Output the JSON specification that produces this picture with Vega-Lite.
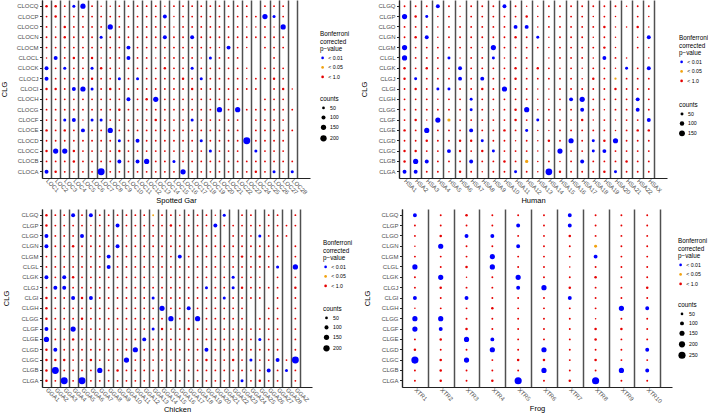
{
"$schema": "https://vega.github.io/schema/vega-lite/v6.json",
"padding": 0,
"spacing": 5,
"config": {
 "font": "Liberation Sans",
 "view": {"stroke": null},
 "axis": {"labelFont": "Liberation Sans", "titleFont": "Liberation Sans", "labelFontSize": 6, "labelColor": "#4d4d4d", "titleFontSize": 7.5, "titleFontWeight": "normal", "titleColor": "#000", "domainColor": "#222", "domainWidth": 1, "tickColor": "#222", "tickSize": 2.5, "labelPadding": 1.5},
 "axisX": {"labelAngle": 45, "labelAlign": "left", "labelBaseline": "middle", "ticks": false, "grid": true, "tickBand": "extent", "gridColor": "#505050", "gridWidth": 1.5, "titlePadding": 1},
 "axisY": {"grid": false, "titlePadding": 8},
 "legend": {"titleFont": "Liberation Sans", "labelFont": "Liberation Sans", "titleFontSize": 6.3, "titleFontWeight": "normal", "titleColor": "#000", "labelFontSize": 5.2, "labelColor": "#000", "titleLineHeight": 7.5, "titlePadding": 3, "rowPadding": 3.5, "symbolStrokeWidth": 0, "labelOffset": 3, "padding": 0}
},
"resolve": {"scale": {"color": "independent", "size": "independent"}, "legend": {"color": "independent", "size": "independent"}},
"vconcat": [
{"spacing": 10,
 "resolve": {"scale": {"color": "independent", "size": "independent"}, "legend": {"color": "independent", "size": "independent"}},
 "hconcat": [
 {"width": 268, "height": 178,
  "data": {"format": {"type": "csv", "parse": {"n": "number"}}, "values": "x,y,n,p\nLOC1,CLOCQ,40,< 1.0\nLOC2,CLOCQ,40,< 1.0\nLOC3,CLOCQ,18,< 1.0\nLOC4,CLOCQ,60,< 0.01\nLOC5,CLOCQ,150,< 0.01\nLOC6,CLOCQ,18,< 1.0\nLOC7,CLOCQ,7,< 1.0\nLOC8,CLOCQ,7,< 1.0\nLOC9,CLOCQ,18,< 1.0\nLOC10,CLOCQ,18,< 1.0\nLOC11,CLOCQ,18,< 1.0\nLOC12,CLOCQ,18,< 1.0\nLOC13,CLOCQ,18,< 1.0\nLOC14,CLOCQ,7,< 1.0\nLOC15,CLOCQ,18,< 1.0\nLOC16,CLOCQ,18,< 1.0\nLOC17,CLOCQ,18,< 1.0\nLOC18,CLOCQ,18,< 1.0\nLOC19,CLOCQ,18,< 1.0\nLOC20,CLOCQ,18,< 1.0\nLOC21,CLOCQ,18,< 1.0\nLOC22,CLOCQ,18,< 1.0\nLOC23,CLOCQ,18,< 1.0\nLOC25,CLOCQ,18,< 1.0\nLOC26,CLOCQ,18,< 1.0\nLOC27,CLOCQ,18,< 1.0\nLOC1,CLOCP,18,< 1.0\nLOC2,CLOCP,40,< 1.0\nLOC3,CLOCP,18,< 1.0\nLOC4,CLOCP,18,< 1.0\nLOC5,CLOCP,18,< 1.0\nLOC6,CLOCP,18,< 1.0\nLOC7,CLOCP,18,< 1.0\nLOC8,CLOCP,18,< 1.0\nLOC9,CLOCP,18,< 1.0\nLOC10,CLOCP,18,< 1.0\nLOC11,CLOCP,18,< 1.0\nLOC12,CLOCP,18,< 1.0\nLOC13,CLOCP,18,< 1.0\nLOC14,CLOCP,96,< 0.01\nLOC15,CLOCP,7,< 1.0\nLOC16,CLOCP,18,< 1.0\nLOC17,CLOCP,18,< 1.0\nLOC18,CLOCP,18,< 1.0\nLOC19,CLOCP,18,< 1.0\nLOC20,CLOCP,18,< 1.0\nLOC21,CLOCP,18,< 1.0\nLOC22,CLOCP,18,< 1.0\nLOC23,CLOCP,18,< 1.0\nLOC24,CLOCP,18,< 1.0\nLOC25,CLOCP,150,< 0.01\nLOC26,CLOCP,60,< 0.01\nLOC27,CLOCP,18,< 1.0\nLOC1,CLOCO,18,< 1.0\nLOC2,CLOCO,7,< 1.0\nLOC3,CLOCO,40,< 1.0\nLOC4,CLOCO,18,< 1.0\nLOC5,CLOCO,18,< 1.0\nLOC6,CLOCO,18,< 1.0\nLOC7,CLOCO,18,< 1.0\nLOC8,CLOCO,150,< 0.01\nLOC9,CLOCO,18,< 1.0\nLOC10,CLOCO,18,< 1.0\nLOC11,CLOCO,18,< 1.0\nLOC12,CLOCO,18,< 1.0\nLOC13,CLOCO,18,< 1.0\nLOC14,CLOCO,18,< 1.0\nLOC15,CLOCO,7,< 1.0\nLOC16,CLOCO,18,< 1.0\nLOC17,CLOCO,18,< 1.0\nLOC18,CLOCO,18,< 1.0\nLOC19,CLOCO,18,< 1.0\nLOC20,CLOCO,18,< 1.0\nLOC21,CLOCO,18,< 1.0\nLOC22,CLOCO,18,< 1.0\nLOC23,CLOCO,7,< 1.0\nLOC24,CLOCO,7,< 1.0\nLOC25,CLOCO,18,< 1.0\nLOC26,CLOCO,7,< 1.0\nLOC27,CLOCO,150,< 0.01\nLOC1,CLOCN,18,< 1.0\nLOC2,CLOCN,18,< 1.0\nLOC3,CLOCN,40,< 1.0\nLOC4,CLOCN,18,< 1.0\nLOC5,CLOCN,18,< 1.0\nLOC6,CLOCN,18,< 1.0\nLOC7,CLOCN,60,< 0.01\nLOC8,CLOCN,18,< 1.0\nLOC9,CLOCN,18,< 1.0\nLOC10,CLOCN,18,< 1.0\nLOC11,CLOCN,18,< 1.0\nLOC12,CLOCN,18,< 1.0\nLOC13,CLOCN,18,< 1.0\nLOC14,CLOCN,96,< 0.01\nLOC15,CLOCN,18,< 1.0\nLOC16,CLOCN,18,< 1.0\nLOC17,CLOCN,96,< 0.01\nLOC18,CLOCN,18,< 1.0\nLOC19,CLOCN,18,< 1.0\nLOC20,CLOCN,18,< 1.0\nLOC21,CLOCN,18,< 1.0\nLOC22,CLOCN,18,< 1.0\nLOC23,CLOCN,18,< 1.0\nLOC24,CLOCN,18,< 1.0\nLOC25,CLOCN,18,< 1.0\nLOC26,CLOCN,18,< 1.0\nLOC27,CLOCN,18,< 1.0\nLOC1,CLOCM,18,< 1.0\nLOC2,CLOCM,18,< 1.0\nLOC3,CLOCM,18,< 1.0\nLOC4,CLOCM,18,< 1.0\nLOC5,CLOCM,18,< 1.0\nLOC6,CLOCM,18,< 1.0\nLOC7,CLOCM,18,< 1.0\nLOC8,CLOCM,18,< 1.0\nLOC9,CLOCM,18,< 1.0\nLOC10,CLOCM,96,< 0.01\nLOC11,CLOCM,18,< 1.0\nLOC12,CLOCM,18,< 1.0\nLOC13,CLOCM,18,< 1.0\nLOC14,CLOCM,18,< 1.0\nLOC15,CLOCM,18,< 1.0\nLOC16,CLOCM,18,< 1.0\nLOC17,CLOCM,18,< 1.0\nLOC18,CLOCM,18,< 1.0\nLOC19,CLOCM,18,< 1.0\nLOC20,CLOCM,7,< 1.0\nLOC21,CLOCM,96,< 0.01\nLOC22,CLOCM,18,< 1.0\nLOC23,CLOCM,7,< 1.0\nLOC25,CLOCM,18,< 1.0\nLOC26,CLOCM,18,< 1.0\nLOC27,CLOCM,18,< 1.0\nLOC1,CLOCL,7,< 1.0\nLOC2,CLOCL,96,< 0.01\nLOC3,CLOCL,18,< 1.0\nLOC4,CLOCL,40,< 1.0\nLOC5,CLOCL,18,< 1.0\nLOC6,CLOCL,40,< 1.0\nLOC7,CLOCL,7,< 1.0\nLOC8,CLOCL,18,< 1.0\nLOC9,CLOCL,18,< 1.0\nLOC10,CLOCL,96,< 0.01\nLOC11,CLOCL,18,< 1.0\nLOC12,CLOCL,18,< 1.0\nLOC13,CLOCL,7,< 1.0\nLOC14,CLOCL,18,< 1.0\nLOC15,CLOCL,18,< 1.0\nLOC16,CLOCL,18,< 1.0\nLOC17,CLOCL,18,< 1.0\nLOC18,CLOCL,7,< 1.0\nLOC19,CLOCL,60,< 0.01\nLOC20,CLOCL,18,< 1.0\nLOC21,CLOCL,18,< 1.0\nLOC22,CLOCL,18,< 1.0\nLOC26,CLOCL,18,< 1.0\nLOC1,CLOCK,96,< 0.01\nLOC2,CLOCK,18,< 1.0\nLOC3,CLOCK,60,< 0.01\nLOC4,CLOCK,18,< 1.0\nLOC5,CLOCK,18,< 1.0\nLOC6,CLOCK,60,< 0.01\nLOC7,CLOCK,40,< 1.0\nLOC8,CLOCK,18,< 1.0\nLOC9,CLOCK,7,< 1.0\nLOC10,CLOCK,18,< 1.0\nLOC11,CLOCK,18,< 1.0\nLOC12,CLOCK,18,< 1.0\nLOC13,CLOCK,18,< 1.0\nLOC14,CLOCK,40,< 1.0\nLOC15,CLOCK,18,< 1.0\nLOC16,CLOCK,18,< 1.0\nLOC17,CLOCK,60,< 0.01\nLOC18,CLOCK,18,< 1.0\nLOC19,CLOCK,18,< 1.0\nLOC20,CLOCK,18,< 1.0\nLOC21,CLOCK,18,< 1.0\nLOC22,CLOCK,18,< 1.0\nLOC23,CLOCK,7,< 1.0\nLOC25,CLOCK,18,< 1.0\nLOC26,CLOCK,18,< 1.0\nLOC27,CLOCK,18,< 1.0\nLOC1,CLOCJ,96,< 0.01\nLOC2,CLOCJ,18,< 1.0\nLOC3,CLOCJ,18,< 1.0\nLOC4,CLOCJ,18,< 1.0\nLOC5,CLOCJ,18,< 1.0\nLOC6,CLOCJ,40,< 1.0\nLOC7,CLOCJ,18,< 1.0\nLOC8,CLOCJ,18,< 1.0\nLOC9,CLOCJ,60,< 0.01\nLOC10,CLOCJ,18,< 1.0\nLOC11,CLOCJ,60,< 0.01\nLOC12,CLOCJ,18,< 1.0\nLOC13,CLOCJ,18,< 1.0\nLOC14,CLOCJ,18,< 1.0\nLOC15,CLOCJ,18,< 1.0\nLOC16,CLOCJ,40,< 1.0\nLOC17,CLOCJ,18,< 1.0\nLOC18,CLOCJ,60,< 0.01\nLOC19,CLOCJ,18,< 1.0\nLOC20,CLOCJ,18,< 1.0\nLOC21,CLOCJ,18,< 1.0\nLOC22,CLOCJ,18,< 1.0\nLOC23,CLOCJ,7,< 1.0\nLOC24,CLOCJ,18,< 1.0\nLOC25,CLOCJ,18,< 1.0\nLOC26,CLOCJ,40,< 1.0\nLOC27,CLOCJ,18,< 1.0\nLOC1,CLOCI,40,< 1.0\nLOC2,CLOCI,40,< 1.0\nLOC3,CLOCI,18,< 1.0\nLOC4,CLOCI,96,< 0.01\nLOC5,CLOCI,150,< 0.01\nLOC6,CLOCI,60,< 0.01\nLOC7,CLOCI,18,< 1.0\nLOC8,CLOCI,40,< 1.0\nLOC9,CLOCI,18,< 1.0\nLOC10,CLOCI,18,< 1.0\nLOC11,CLOCI,18,< 1.0\nLOC12,CLOCI,18,< 1.0\nLOC13,CLOCI,18,< 1.0\nLOC14,CLOCI,18,< 1.0\nLOC15,CLOCI,18,< 1.0\nLOC16,CLOCI,18,< 1.0\nLOC17,CLOCI,40,< 1.0\nLOC18,CLOCI,18,< 1.0\nLOC19,CLOCI,18,< 1.0\nLOC20,CLOCI,18,< 1.0\nLOC21,CLOCI,18,< 1.0\nLOC22,CLOCI,18,< 1.0\nLOC23,CLOCI,18,< 1.0\nLOC24,CLOCI,18,< 1.0\nLOC26,CLOCI,18,< 1.0\nLOC27,CLOCI,40,< 1.0\nLOC28,CLOCI,7,< 1.0\nLOC1,CLOCH,18,< 1.0\nLOC2,CLOCH,18,< 1.0\nLOC3,CLOCH,18,< 1.0\nLOC4,CLOCH,18,< 1.0\nLOC5,CLOCH,18,< 1.0\nLOC6,CLOCH,18,< 1.0\nLOC7,CLOCH,18,< 1.0\nLOC8,CLOCH,18,< 1.0\nLOC9,CLOCH,18,< 1.0\nLOC10,CLOCH,96,< 0.01\nLOC11,CLOCH,18,< 1.0\nLOC12,CLOCH,40,< 1.0\nLOC13,CLOCH,150,< 0.01\nLOC14,CLOCH,18,< 1.0\nLOC15,CLOCH,18,< 1.0\nLOC16,CLOCH,18,< 1.0\nLOC17,CLOCH,18,< 1.0\nLOC18,CLOCH,18,< 1.0\nLOC19,CLOCH,18,< 1.0\nLOC20,CLOCH,18,< 1.0\nLOC21,CLOCH,18,< 1.0\nLOC22,CLOCH,18,< 1.0\nLOC25,CLOCH,18,< 1.0\nLOC26,CLOCH,18,< 1.0\nLOC27,CLOCH,18,< 1.0\nLOC1,CLOCG,18,< 1.0\nLOC2,CLOCG,18,< 1.0\nLOC3,CLOCG,18,< 1.0\nLOC4,CLOCG,18,< 1.0\nLOC5,CLOCG,18,< 1.0\nLOC6,CLOCG,18,< 1.0\nLOC7,CLOCG,18,< 1.0\nLOC8,CLOCG,18,< 1.0\nLOC9,CLOCG,40,< 1.0\nLOC10,CLOCG,18,< 1.0\nLOC11,CLOCG,18,< 1.0\nLOC12,CLOCG,18,< 1.0\nLOC13,CLOCG,18,< 1.0\nLOC14,CLOCG,18,< 1.0\nLOC15,CLOCG,18,< 1.0\nLOC16,CLOCG,18,< 1.0\nLOC17,CLOCG,18,< 1.0\nLOC18,CLOCG,18,< 1.0\nLOC19,CLOCG,18,< 1.0\nLOC20,CLOCG,150,< 0.01\nLOC21,CLOCG,18,< 1.0\nLOC22,CLOCG,150,< 0.01\nLOC23,CLOCG,18,< 1.0\nLOC24,CLOCG,18,< 1.0\nLOC25,CLOCG,18,< 1.0\nLOC26,CLOCG,18,< 1.0\nLOC27,CLOCG,18,< 1.0\nLOC28,CLOCG,18,< 1.0\nLOC1,CLOCF,18,< 1.0\nLOC2,CLOCF,18,< 1.0\nLOC3,CLOCF,60,< 0.01\nLOC4,CLOCF,96,< 0.01\nLOC5,CLOCF,7,< 1.0\nLOC6,CLOCF,60,< 0.01\nLOC7,CLOCF,60,< 0.01\nLOC8,CLOCF,18,< 1.0\nLOC9,CLOCF,18,< 1.0\nLOC10,CLOCF,18,< 1.0\nLOC11,CLOCF,18,< 1.0\nLOC12,CLOCF,18,< 1.0\nLOC13,CLOCF,40,< 1.0\nLOC14,CLOCF,18,< 1.0\nLOC15,CLOCF,18,< 1.0\nLOC16,CLOCF,18,< 1.0\nLOC17,CLOCF,60,< 0.01\nLOC18,CLOCF,18,< 1.0\nLOC19,CLOCF,18,< 1.0\nLOC20,CLOCF,18,< 1.0\nLOC21,CLOCF,18,< 1.0\nLOC22,CLOCF,18,< 1.0\nLOC24,CLOCF,18,< 1.0\nLOC25,CLOCF,18,< 1.0\nLOC26,CLOCF,18,< 1.0\nLOC27,CLOCF,18,< 1.0\nLOC1,CLOCE,40,< 1.0\nLOC2,CLOCE,18,< 1.0\nLOC3,CLOCE,40,< 1.0\nLOC4,CLOCE,18,< 1.0\nLOC5,CLOCE,96,< 0.01\nLOC6,CLOCE,18,< 1.0\nLOC7,CLOCE,18,< 1.0\nLOC8,CLOCE,150,< 0.01\nLOC9,CLOCE,18,< 1.0\nLOC10,CLOCE,18,< 1.0\nLOC11,CLOCE,18,< 1.0\nLOC12,CLOCE,18,< 1.0\nLOC13,CLOCE,18,< 1.0\nLOC14,CLOCE,18,< 1.0\nLOC15,CLOCE,18,< 1.0\nLOC16,CLOCE,18,< 1.0\nLOC17,CLOCE,18,< 1.0\nLOC18,CLOCE,18,< 1.0\nLOC19,CLOCE,18,< 1.0\nLOC20,CLOCE,18,< 1.0\nLOC21,CLOCE,18,< 1.0\nLOC22,CLOCE,18,< 1.0\nLOC24,CLOCE,18,< 1.0\nLOC25,CLOCE,18,< 1.0\nLOC26,CLOCE,18,< 1.0\nLOC27,CLOCE,18,< 1.0\nLOC28,CLOCE,18,< 1.0\nLOC1,CLOCD,18,< 1.0\nLOC2,CLOCD,18,< 1.0\nLOC3,CLOCD,18,< 1.0\nLOC4,CLOCD,18,< 1.0\nLOC5,CLOCD,18,< 1.0\nLOC6,CLOCD,18,< 1.0\nLOC7,CLOCD,18,< 1.0\nLOC8,CLOCD,18,< 1.0\nLOC9,CLOCD,60,< 0.01\nLOC10,CLOCD,18,< 1.0\nLOC11,CLOCD,96,< 0.01\nLOC12,CLOCD,18,< 1.0\nLOC13,CLOCD,18,< 1.0\nLOC14,CLOCD,18,< 1.0\nLOC15,CLOCD,18,< 1.0\nLOC16,CLOCD,18,< 1.0\nLOC17,CLOCD,18,< 1.0\nLOC18,CLOCD,60,< 0.01\nLOC19,CLOCD,18,< 1.0\nLOC20,CLOCD,18,< 1.0\nLOC21,CLOCD,18,< 1.0\nLOC22,CLOCD,18,< 1.0\nLOC23,CLOCD,230,< 0.01\nLOC24,CLOCD,18,< 1.0\nLOC25,CLOCD,18,< 1.0\nLOC26,CLOCD,18,< 1.0\nLOC27,CLOCD,18,< 1.0\nLOC1,CLOCC,40,< 1.0\nLOC2,CLOCC,150,< 0.01\nLOC3,CLOCC,150,< 0.01\nLOC4,CLOCC,40,< 1.0\nLOC5,CLOCC,18,< 1.0\nLOC6,CLOCC,18,< 1.0\nLOC7,CLOCC,18,< 1.0\nLOC8,CLOCC,18,< 1.0\nLOC9,CLOCC,40,< 1.0\nLOC10,CLOCC,18,< 1.0\nLOC11,CLOCC,18,< 1.0\nLOC12,CLOCC,18,< 1.0\nLOC13,CLOCC,18,< 1.0\nLOC14,CLOCC,18,< 1.0\nLOC15,CLOCC,18,< 1.0\nLOC16,CLOCC,18,< 1.0\nLOC17,CLOCC,18,< 1.0\nLOC18,CLOCC,18,< 1.0\nLOC19,CLOCC,60,< 0.01\nLOC20,CLOCC,18,< 1.0\nLOC21,CLOCC,18,< 1.0\nLOC22,CLOCC,18,< 1.0\nLOC24,CLOCC,60,< 0.01\nLOC25,CLOCC,18,< 1.0\nLOC26,CLOCC,18,< 1.0\nLOC27,CLOCC,18,< 1.0\nLOC1,CLOCB,18,< 1.0\nLOC2,CLOCB,18,< 1.0\nLOC3,CLOCB,18,< 1.0\nLOC4,CLOCB,40,< 1.0\nLOC5,CLOCB,18,< 1.0\nLOC6,CLOCB,18,< 1.0\nLOC7,CLOCB,18,< 1.0\nLOC8,CLOCB,18,< 1.0\nLOC9,CLOCB,96,< 0.01\nLOC10,CLOCB,18,< 1.0\nLOC11,CLOCB,96,< 0.01\nLOC12,CLOCB,150,< 0.01\nLOC13,CLOCB,18,< 1.0\nLOC14,CLOCB,18,< 1.0\nLOC15,CLOCB,60,< 0.01\nLOC16,CLOCB,18,< 1.0\nLOC17,CLOCB,18,< 1.0\nLOC18,CLOCB,18,< 1.0\nLOC19,CLOCB,18,< 1.0\nLOC20,CLOCB,18,< 1.0\nLOC21,CLOCB,18,< 1.0\nLOC22,CLOCB,18,< 1.0\nLOC23,CLOCB,18,< 1.0\nLOC24,CLOCB,18,< 1.0\nLOC25,CLOCB,18,< 1.0\nLOC26,CLOCB,18,< 1.0\nLOC27,CLOCB,18,< 1.0\nLOC28,CLOCB,18,< 1.0\nLOC1,CLOCA,96,< 0.01\nLOC2,CLOCA,40,< 1.0\nLOC3,CLOCA,18,< 1.0\nLOC4,CLOCA,18,< 1.0\nLOC5,CLOCA,18,< 1.0\nLOC6,CLOCA,18,< 1.0\nLOC7,CLOCA,230,< 0.01\nLOC8,CLOCA,18,< 1.0\nLOC9,CLOCA,18,< 1.0\nLOC10,CLOCA,18,< 1.0\nLOC11,CLOCA,18,< 1.0\nLOC12,CLOCA,18,< 1.0\nLOC13,CLOCA,18,< 1.0\nLOC14,CLOCA,18,< 1.0\nLOC15,CLOCA,18,< 1.0\nLOC16,CLOCA,150,< 0.01\nLOC17,CLOCA,18,< 1.0\nLOC18,CLOCA,18,< 1.0\nLOC19,CLOCA,18,< 1.0\nLOC20,CLOCA,18,< 1.0\nLOC21,CLOCA,18,< 1.0\nLOC22,CLOCA,18,< 1.0\nLOC23,CLOCA,18,< 1.0\nLOC24,CLOCA,40,< 1.0\nLOC25,CLOCA,18,< 1.0\nLOC26,CLOCA,60,< 0.01\nLOC27,CLOCA,18,< 1.0\nLOC28,CLOCA,60,< 0.01"},
  "mark": {"type": "circle", "opacity": 1},
  "encoding": {
   "x": {"field": "x", "type": "nominal", "title": "Spotted Gar", "scale": {"type": "band", "domain": ["LOC1","LOC2","LOC3","LOC4","LOC5","LOC6","LOC7","LOC8","LOC9","LOC10","LOC11","LOC12","LOC13","LOC14","LOC15","LOC16","LOC17","LOC18","LOC19","LOC20","LOC21","LOC22","LOC23","LOC24","LOC25","LOC26","LOC27","LOC28"], "paddingInner": 0, "paddingOuter": 0.725, "align": 0}},
   "y": {"field": "y", "type": "nominal", "title": "CLG", "sort": "descending", "scale": {"type": "band", "paddingInner": 0, "paddingOuter": 0.1}, "axis": {"titlePadding": 8}},
   "color": {"field": "p", "type": "nominal", "title": ["Bonferroni", "corrected", "p−value"], "scale": {"domain": ["< 0.01", "< 0.05", "< 1.0"], "range": ["#0000ff", "#f2a20f", "#e60000"]}, "legend": {"orient": "none", "legendX": 278, "legendY": 31, "symbolSize": 7}},
   "size": {"field": "n", "type": "quantitative", "title": "counts", "scale": {"type": "pow", "exponent": 1.4, "domain": [0, 200], "range": [2, 40]}, "legend": {"orient": "none", "legendX": 278, "legendY": 96, "values": [50, 100, 150, 200], "symbolFillColor": "#000"}}
  }
 },
 {"width": 268, "height": 178,
  "data": {"format": {"type": "csv", "parse": {"n": "number"}}, "values": "x,y,n,p\nHSA1,CLGQ,16,< 1.0\nHSA2,CLGQ,16,< 1.0\nHSA3,CLGQ,16,< 1.0\nHSA4,CLGQ,80,< 0.01\nHSA5,CLGQ,16,< 1.0\nHSA6,CLGQ,6,< 1.0\nHSA7,CLGQ,16,< 1.0\nHSA8,CLGQ,16,< 1.0\nHSA9,CLGQ,16,< 1.0\nHSA10,CLGQ,80,< 0.01\nHSA11,CLGQ,16,< 1.0\nHSA12,CLGQ,6,< 1.0\nHSA13,CLGQ,6,< 1.0\nHSA14,CLGQ,16,< 1.0\nHSA15,CLGQ,16,< 1.0\nHSA16,CLGQ,16,< 1.0\nHSA17,CLGQ,16,< 1.0\nHSA18,CLGQ,16,< 1.0\nHSA19,CLGQ,16,< 1.0\nHSA20,CLGQ,16,< 1.0\nHSA21,CLGQ,6,< 1.0\nHSA22,CLGQ,16,< 1.0\nHSAX,CLGQ,16,< 1.0\nHSA1,CLGP,125,< 0.01\nHSA2,CLGP,34,< 1.0\nHSA3,CLGP,50,< 0.01\nHSA4,CLGP,6,< 1.0\nHSA5,CLGP,16,< 1.0\nHSA6,CLGP,6,< 1.0\nHSA7,CLGP,16,< 1.0\nHSA8,CLGP,16,< 1.0\nHSA9,CLGP,16,< 1.0\nHSA10,CLGP,16,< 1.0\nHSA11,CLGP,16,< 1.0\nHSA12,CLGP,34,< 1.0\nHSA13,CLGP,6,< 1.0\nHSA14,CLGP,16,< 1.0\nHSA15,CLGP,16,< 1.0\nHSA16,CLGP,16,< 1.0\nHSA17,CLGP,16,< 1.0\nHSA18,CLGP,6,< 1.0\nHSA19,CLGP,16,< 1.0\nHSA20,CLGP,6,< 1.0\nHSA22,CLGP,16,< 1.0\nHSAX,CLGP,6,< 1.0\nHSA1,CLGO,16,< 1.0\nHSA2,CLGO,16,< 1.0\nHSA3,CLGO,16,< 1.0\nHSA4,CLGO,6,< 1.0\nHSA5,CLGO,16,< 1.0\nHSA6,CLGO,16,< 1.0\nHSA7,CLGO,16,< 1.0\nHSA8,CLGO,16,< 1.0\nHSA9,CLGO,16,< 1.0\nHSA10,CLGO,16,< 1.0\nHSA11,CLGO,80,< 0.01\nHSA12,CLGO,80,< 0.01\nHSA13,CLGO,6,< 1.0\nHSA14,CLGO,16,< 1.0\nHSA15,CLGO,16,< 1.0\nHSA16,CLGO,16,< 1.0\nHSA17,CLGO,16,< 1.0\nHSA18,CLGO,16,< 1.0\nHSA19,CLGO,34,< 1.0\nHSA20,CLGO,6,< 1.0\nHSA21,CLGO,6,< 1.0\nHSA22,CLGO,34,< 1.0\nHSAX,CLGO,6,< 1.0\nHSA1,CLGN,16,< 1.0\nHSA2,CLGN,34,< 1.0\nHSA3,CLGN,80,< 0.01\nHSA4,CLGN,6,< 1.0\nHSA5,CLGN,16,< 1.0\nHSA6,CLGN,16,< 1.0\nHSA7,CLGN,16,< 1.0\nHSA8,CLGN,16,< 1.0\nHSA9,CLGN,16,< 1.0\nHSA10,CLGN,16,< 1.0\nHSA11,CLGN,34,< 1.0\nHSA12,CLGN,16,< 1.0\nHSA13,CLGN,50,< 0.01\nHSA14,CLGN,6,< 1.0\nHSA15,CLGN,16,< 1.0\nHSA16,CLGN,16,< 1.0\nHSA17,CLGN,16,< 1.0\nHSA18,CLGN,6,< 1.0\nHSA19,CLGN,16,< 1.0\nHSA20,CLGN,6,< 1.0\nHSA22,CLGN,6,< 1.0\nHSAX,CLGN,80,< 0.01\nHSA1,CLGM,125,< 0.01\nHSA2,CLGM,16,< 1.0\nHSA3,CLGM,16,< 1.0\nHSA4,CLGM,16,< 1.0\nHSA5,CLGM,16,< 1.0\nHSA6,CLGM,16,< 1.0\nHSA7,CLGM,16,< 1.0\nHSA8,CLGM,6,< 1.0\nHSA9,CLGM,125,< 0.01\nHSA10,CLGM,16,< 1.0\nHSA11,CLGM,16,< 1.0\nHSA12,CLGM,16,< 1.0\nHSA13,CLGM,16,< 1.0\nHSA14,CLGM,6,< 1.0\nHSA15,CLGM,16,< 1.0\nHSA16,CLGM,16,< 1.0\nHSA17,CLGM,16,< 1.0\nHSA18,CLGM,16,< 1.0\nHSA19,CLGM,34,< 1.0\nHSA20,CLGM,6,< 1.0\nHSA22,CLGM,16,< 1.0\nHSAX,CLGM,6,< 1.0\nHSA1,CLGL,125,< 0.01\nHSA2,CLGL,16,< 1.0\nHSA3,CLGL,16,< 1.0\nHSA4,CLGL,16,< 1.0\nHSA5,CLGL,50,< 0.01\nHSA6,CLGL,6,< 1.0\nHSA7,CLGL,16,< 1.0\nHSA8,CLGL,16,< 1.0\nHSA9,CLGL,50,< 0.01\nHSA10,CLGL,6,< 1.0\nHSA11,CLGL,16,< 1.0\nHSA12,CLGL,16,< 1.0\nHSA14,CLGL,6,< 1.0\nHSA15,CLGL,16,< 1.0\nHSA16,CLGL,16,< 1.0\nHSA17,CLGL,16,< 1.0\nHSA18,CLGL,6,< 1.0\nHSA19,CLGL,80,< 0.01\nHSA20,CLGL,16,< 1.0\nHSA21,CLGL,6,< 1.0\nHSAX,CLGL,6,< 1.0\nHSA1,CLGK,34,< 1.0\nHSA2,CLGK,16,< 1.0\nHSA3,CLGK,34,< 1.0\nHSA4,CLGK,16,< 1.0\nHSA5,CLGK,16,< 1.0\nHSA6,CLGK,80,< 0.01\nHSA7,CLGK,16,< 1.0\nHSA8,CLGK,16,< 1.0\nHSA9,CLGK,16,< 1.0\nHSA10,CLGK,16,< 1.0\nHSA11,CLGK,34,< 1.0\nHSA12,CLGK,16,< 1.0\nHSA13,CLGK,34,< 1.0\nHSA14,CLGK,16,< 1.0\nHSA15,CLGK,6,< 1.0\nHSA16,CLGK,16,< 1.0\nHSA17,CLGK,6,< 1.0\nHSA18,CLGK,16,< 1.0\nHSA19,CLGK,16,< 1.0\nHSA20,CLGK,6,< 1.0\nHSA21,CLGK,50,< 0.01\nHSA22,CLGK,16,< 1.0\nHSAX,CLGK,80,< 0.01\nHSA1,CLGJ,34,< 1.0\nHSA2,CLGJ,50,< 0.01\nHSA3,CLGJ,16,< 1.0\nHSA4,CLGJ,16,< 1.0\nHSA5,CLGJ,16,< 1.0\nHSA6,CLGJ,80,< 0.01\nHSA7,CLGJ,16,< 1.0\nHSA8,CLGJ,80,< 0.01\nHSA9,CLGJ,16,< 1.0\nHSA10,CLGJ,16,< 1.0\nHSA11,CLGJ,34,< 1.0\nHSA12,CLGJ,16,< 1.0\nHSA13,CLGJ,16,< 1.0\nHSA14,CLGJ,16,< 1.0\nHSA15,CLGJ,16,< 1.0\nHSA16,CLGJ,16,< 1.0\nHSA17,CLGJ,6,< 1.0\nHSA18,CLGJ,34,< 1.0\nHSA19,CLGJ,16,< 1.0\nHSA20,CLGJ,28,< 0.05\nHSA21,CLGJ,16,< 1.0\nHSA22,CLGJ,16,< 1.0\nHSAX,CLGJ,16,< 1.0\nHSA1,CLGI,16,< 1.0\nHSA2,CLGI,34,< 1.0\nHSA3,CLGI,16,< 1.0\nHSA4,CLGI,50,< 0.01\nHSA5,CLGI,50,< 0.01\nHSA6,CLGI,16,< 1.0\nHSA7,CLGI,16,< 1.0\nHSA8,CLGI,34,< 1.0\nHSA9,CLGI,16,< 1.0\nHSA10,CLGI,125,< 0.01\nHSA11,CLGI,16,< 1.0\nHSA12,CLGI,16,< 1.0\nHSA13,CLGI,6,< 1.0\nHSA14,CLGI,6,< 1.0\nHSA15,CLGI,16,< 1.0\nHSA16,CLGI,16,< 1.0\nHSA17,CLGI,16,< 1.0\nHSA18,CLGI,16,< 1.0\nHSA19,CLGI,16,< 1.0\nHSA20,CLGI,34,< 1.0\nHSA21,CLGI,16,< 1.0\nHSA22,CLGI,16,< 1.0\nHSAX,CLGI,16,< 1.0\nHSA1,CLGH,16,< 1.0\nHSA2,CLGH,16,< 1.0\nHSA3,CLGH,16,< 1.0\nHSA4,CLGH,6,< 1.0\nHSA5,CLGH,16,< 1.0\nHSA6,CLGH,16,< 1.0\nHSA7,CLGH,50,< 0.01\nHSA8,CLGH,16,< 1.0\nHSA9,CLGH,16,< 1.0\nHSA10,CLGH,16,< 1.0\nHSA11,CLGH,16,< 1.0\nHSA12,CLGH,16,< 1.0\nHSA13,CLGH,6,< 1.0\nHSA14,CLGH,6,< 1.0\nHSA15,CLGH,16,< 1.0\nHSA16,CLGH,80,< 0.01\nHSA17,CLGH,125,< 0.01\nHSA18,CLGH,16,< 1.0\nHSA19,CLGH,16,< 1.0\nHSA20,CLGH,16,< 1.0\nHSA21,CLGH,16,< 1.0\nHSA22,CLGH,80,< 0.01\nHSAX,CLGH,16,< 1.0\nHSA1,CLGG,16,< 1.0\nHSA2,CLGG,16,< 1.0\nHSA3,CLGG,16,< 1.0\nHSA4,CLGG,16,< 1.0\nHSA5,CLGG,16,< 1.0\nHSA6,CLGG,16,< 1.0\nHSA7,CLGG,50,< 0.01\nHSA8,CLGG,16,< 1.0\nHSA9,CLGG,6,< 1.0\nHSA10,CLGG,16,< 1.0\nHSA11,CLGG,34,< 1.0\nHSA12,CLGG,125,< 0.01\nHSA13,CLGG,6,< 1.0\nHSA14,CLGG,16,< 1.0\nHSA15,CLGG,16,< 1.0\nHSA16,CLGG,16,< 1.0\nHSA17,CLGG,80,< 0.01\nHSA18,CLGG,16,< 1.0\nHSA19,CLGG,6,< 1.0\nHSA20,CLGG,16,< 1.0\nHSA21,CLGG,16,< 1.0\nHSA22,CLGG,80,< 0.01\nHSAX,CLGG,16,< 1.0\nHSA1,CLGF,16,< 1.0\nHSA2,CLGF,34,< 1.0\nHSA3,CLGF,6,< 1.0\nHSA4,CLGF,125,< 0.01\nHSA5,CLGF,55,< 0.05\nHSA6,CLGF,16,< 1.0\nHSA7,CLGF,16,< 1.0\nHSA8,CLGF,16,< 1.0\nHSA9,CLGF,16,< 1.0\nHSA10,CLGF,16,< 1.0\nHSA11,CLGF,34,< 1.0\nHSA12,CLGF,16,< 1.0\nHSA13,CLGF,50,< 0.01\nHSA14,CLGF,16,< 1.0\nHSA15,CLGF,16,< 1.0\nHSA16,CLGF,16,< 1.0\nHSA17,CLGF,34,< 1.0\nHSA18,CLGF,6,< 1.0\nHSA19,CLGF,16,< 1.0\nHSA20,CLGF,6,< 1.0\nHSA21,CLGF,16,< 1.0\nHSA22,CLGF,16,< 1.0\nHSAX,CLGF,80,< 0.01\nHSA1,CLGE,34,< 1.0\nHSA2,CLGE,16,< 1.0\nHSA3,CLGE,125,< 0.01\nHSA4,CLGE,16,< 1.0\nHSA5,CLGE,16,< 1.0\nHSA6,CLGE,16,< 1.0\nHSA7,CLGE,80,< 0.01\nHSA8,CLGE,16,< 1.0\nHSA9,CLGE,16,< 1.0\nHSA10,CLGE,34,< 1.0\nHSA11,CLGE,16,< 1.0\nHSA12,CLGE,50,< 0.01\nHSA13,CLGE,6,< 1.0\nHSA14,CLGE,6,< 1.0\nHSA15,CLGE,16,< 1.0\nHSA16,CLGE,16,< 1.0\nHSA17,CLGE,16,< 1.0\nHSA18,CLGE,16,< 1.0\nHSA19,CLGE,16,< 1.0\nHSA20,CLGE,6,< 1.0\nHSA21,CLGE,16,< 1.0\nHSA22,CLGE,34,< 1.0\nHSAX,CLGE,34,< 1.0\nHSA1,CLGD,16,< 1.0\nHSA2,CLGD,16,< 1.0\nHSA3,CLGD,34,< 1.0\nHSA4,CLGD,16,< 1.0\nHSA5,CLGD,16,< 1.0\nHSA6,CLGD,34,< 1.0\nHSA7,CLGD,34,< 1.0\nHSA8,CLGD,50,< 0.01\nHSA9,CLGD,16,< 1.0\nHSA10,CLGD,16,< 1.0\nHSA11,CLGD,6,< 1.0\nHSA12,CLGD,16,< 1.0\nHSA13,CLGD,6,< 1.0\nHSA14,CLGD,34,< 1.0\nHSA15,CLGD,16,< 1.0\nHSA16,CLGD,125,< 0.01\nHSA17,CLGD,16,< 1.0\nHSA18,CLGD,50,< 0.01\nHSA19,CLGD,34,< 1.0\nHSA20,CLGD,125,< 0.01\nHSA21,CLGD,16,< 1.0\nHSA22,CLGD,16,< 1.0\nHSAX,CLGD,16,< 1.0\nHSA1,CLGC,34,< 1.0\nHSA2,CLGC,34,< 1.0\nHSA3,CLGC,16,< 1.0\nHSA4,CLGC,16,< 1.0\nHSA5,CLGC,80,< 0.01\nHSA6,CLGC,34,< 1.0\nHSA7,CLGC,16,< 1.0\nHSA8,CLGC,34,< 1.0\nHSA9,CLGC,50,< 0.01\nHSA10,CLGC,16,< 1.0\nHSA11,CLGC,16,< 1.0\nHSA12,CLGC,16,< 1.0\nHSA13,CLGC,6,< 1.0\nHSA14,CLGC,6,< 1.0\nHSA15,CLGC,125,< 0.01\nHSA16,CLGC,16,< 1.0\nHSA17,CLGC,16,< 1.0\nHSA18,CLGC,50,< 0.01\nHSA19,CLGC,80,< 0.01\nHSA20,CLGC,16,< 1.0\nHSA21,CLGC,16,< 1.0\nHSA22,CLGC,16,< 1.0\nHSAX,CLGC,16,< 1.0\nHSA1,CLGB,34,< 1.0\nHSA2,CLGB,125,< 0.01\nHSA3,CLGB,80,< 0.01\nHSA4,CLGB,16,< 1.0\nHSA5,CLGB,16,< 1.0\nHSA6,CLGB,16,< 1.0\nHSA7,CLGB,80,< 0.01\nHSA8,CLGB,16,< 1.0\nHSA9,CLGB,16,< 1.0\nHSA10,CLGB,34,< 1.0\nHSA11,CLGB,16,< 1.0\nHSA12,CLGB,60,< 0.05\nHSA13,CLGB,6,< 1.0\nHSA14,CLGB,16,< 1.0\nHSA15,CLGB,6,< 1.0\nHSA16,CLGB,16,< 1.0\nHSA17,CLGB,80,< 0.01\nHSA18,CLGB,16,< 1.0\nHSA19,CLGB,16,< 1.0\nHSA20,CLGB,16,< 1.0\nHSA21,CLGB,34,< 1.0\nHSA22,CLGB,16,< 1.0\nHSAX,CLGB,16,< 1.0\nHSA1,CLGA,80,< 0.01\nHSA2,CLGA,80,< 0.01\nHSA3,CLGA,16,< 1.0\nHSA4,CLGA,16,< 1.0\nHSA5,CLGA,6,< 1.0\nHSA6,CLGA,34,< 1.0\nHSA7,CLGA,16,< 1.0\nHSA8,CLGA,6,< 1.0\nHSA9,CLGA,16,< 1.0\nHSA10,CLGA,16,< 1.0\nHSA11,CLGA,50,< 0.01\nHSA12,CLGA,16,< 1.0\nHSA13,CLGA,6,< 1.0\nHSA14,CLGA,185,< 0.01\nHSA15,CLGA,34,< 1.0\nHSA16,CLGA,16,< 1.0\nHSA17,CLGA,16,< 1.0\nHSA18,CLGA,16,< 1.0\nHSA19,CLGA,34,< 1.0\nHSA20,CLGA,50,< 0.01\nHSA21,CLGA,16,< 1.0\nHSA22,CLGA,16,< 1.0\nHSAX,CLGA,16,< 1.0"},
  "mark": {"type": "circle", "opacity": 1},
  "encoding": {
   "x": {"field": "x", "type": "nominal", "title": "Human", "scale": {"type": "band", "domain": ["HSA1","HSA2","HSA3","HSA4","HSA5","HSA6","HSA7","HSA8","HSA9","HSA10","HSA11","HSA12","HSA13","HSA14","HSA15","HSA16","HSA17","HSA18","HSA19","HSA20","HSA21","HSA22","HSAX"], "paddingInner": 0, "paddingOuter": 0.57, "align": 0}},
   "y": {"field": "y", "type": "nominal", "title": "CLG", "sort": "descending", "scale": {"type": "band", "paddingInner": 0, "paddingOuter": 0.1}, "axis": {"titlePadding": 9}},
   "color": {"field": "p", "type": "nominal", "title": ["Bonferroni", "corrected", "p−value"], "scale": {"domain": ["< 0.01", "< 0.05", "< 1.0"], "range": ["#0000ff", "#f2a20f", "#e60000"]}, "legend": {"orient": "none", "legendX": 280, "legendY": 35, "symbolSize": 7}},
   "size": {"field": "n", "type": "quantitative", "title": "counts", "scale": {"type": "pow", "exponent": 1.4, "domain": [0, 150], "range": [2, 34]}, "legend": {"orient": "none", "legendX": 280, "legendY": 102, "values": [50, 100, 150], "symbolFillColor": "#000"}}
  }
 }
 ]
},
{"spacing": 10,
 "resolve": {"scale": {"color": "independent", "size": "independent"}, "legend": {"color": "independent", "size": "independent"}},
 "hconcat": [
 {"width": 270, "height": 178,
  "data": {"format": {"type": "csv", "parse": {"n": "number"}}, "values": "x,y,n,p\nGGA1,CLGQ,40,< 1.0\nGGA2,CLGQ,18,< 1.0\nGGA3,CLGQ,18,< 1.0\nGGA4,CLGQ,96,< 0.01\nGGA5,CLGQ,18,< 1.0\nGGA6,CLGQ,96,< 0.01\nGGA7,CLGQ,18,< 1.0\nGGA8,CLGQ,18,< 1.0\nGGA9,CLGQ,18,< 1.0\nGGA10,CLGQ,18,< 1.0\nGGA11,CLGQ,18,< 1.0\nGGA12,CLGQ,18,< 1.0\nGGA13,CLGQ,20,< 0.05\nGGA14,CLGQ,18,< 1.0\nGGA15,CLGQ,18,< 1.0\nGGA16,CLGQ,7,< 1.0\nGGA17,CLGQ,18,< 1.0\nGGA18,CLGQ,18,< 1.0\nGGA19,CLGQ,18,< 1.0\nGGA20,CLGQ,7,< 1.0\nGGA21,CLGQ,60,< 0.01\nGGA23,CLGQ,18,< 1.0\nGGA24,CLGQ,18,< 1.0\nGGA26,CLGQ,18,< 1.0\nGGA27,CLGQ,18,< 1.0\nGGAZ,CLGQ,18,< 1.0\nGGA1,CLGP,40,< 1.0\nGGA2,CLGP,18,< 1.0\nGGA3,CLGP,18,< 1.0\nGGA4,CLGP,18,< 1.0\nGGA5,CLGP,18,< 1.0\nGGA6,CLGP,7,< 1.0\nGGA7,CLGP,18,< 1.0\nGGA8,CLGP,18,< 1.0\nGGA9,CLGP,96,< 0.01\nGGA10,CLGP,18,< 1.0\nGGA11,CLGP,18,< 1.0\nGGA12,CLGP,18,< 1.0\nGGA13,CLGP,18,< 1.0\nGGA14,CLGP,18,< 1.0\nGGA15,CLGP,40,< 1.0\nGGA16,CLGP,18,< 1.0\nGGA17,CLGP,18,< 1.0\nGGA18,CLGP,18,< 1.0\nGGA19,CLGP,18,< 1.0\nGGA20,CLGP,96,< 0.01\nGGA21,CLGP,18,< 1.0\nGGA22,CLGP,18,< 1.0\nGGA23,CLGP,18,< 1.0\nGGA24,CLGP,18,< 1.0\nGGA25,CLGP,18,< 1.0\nGGA26,CLGP,18,< 1.0\nGGA27,CLGP,18,< 1.0\nGGA28,CLGP,18,< 1.0\nGGAZ,CLGP,18,< 1.0\nGGA1,CLGO,96,< 0.01\nGGA2,CLGO,18,< 1.0\nGGA3,CLGO,18,< 1.0\nGGA4,CLGO,18,< 1.0\nGGA5,CLGO,96,< 0.01\nGGA6,CLGO,18,< 1.0\nGGA7,CLGO,18,< 1.0\nGGA8,CLGO,18,< 1.0\nGGA9,CLGO,18,< 1.0\nGGA10,CLGO,7,< 1.0\nGGA11,CLGO,18,< 1.0\nGGA12,CLGO,18,< 1.0\nGGA13,CLGO,18,< 1.0\nGGA14,CLGO,18,< 1.0\nGGA15,CLGO,18,< 1.0\nGGA16,CLGO,18,< 1.0\nGGA17,CLGO,18,< 1.0\nGGA18,CLGO,18,< 1.0\nGGA19,CLGO,18,< 1.0\nGGA20,CLGO,18,< 1.0\nGGA22,CLGO,18,< 1.0\nGGA23,CLGO,18,< 1.0\nGGA24,CLGO,18,< 1.0\nGGA25,CLGO,60,< 0.01\nGGA26,CLGO,18,< 1.0\nGGA27,CLGO,18,< 1.0\nGGA28,CLGO,18,< 1.0\nGGA1,CLGN,96,< 0.01\nGGA2,CLGN,18,< 1.0\nGGA3,CLGN,18,< 1.0\nGGA4,CLGN,40,< 1.0\nGGA5,CLGN,18,< 1.0\nGGA6,CLGN,18,< 1.0\nGGA7,CLGN,18,< 1.0\nGGA8,CLGN,18,< 1.0\nGGA9,CLGN,96,< 0.01\nGGA10,CLGN,18,< 1.0\nGGA11,CLGN,18,< 1.0\nGGA12,CLGN,18,< 1.0\nGGA13,CLGN,18,< 1.0\nGGA14,CLGN,18,< 1.0\nGGA15,CLGN,18,< 1.0\nGGA16,CLGN,18,< 1.0\nGGA17,CLGN,18,< 1.0\nGGA18,CLGN,18,< 1.0\nGGA19,CLGN,18,< 1.0\nGGA20,CLGN,18,< 1.0\nGGA21,CLGN,18,< 1.0\nGGA22,CLGN,18,< 1.0\nGGA23,CLGN,18,< 1.0\nGGA24,CLGN,18,< 1.0\nGGA25,CLGN,18,< 1.0\nGGA26,CLGN,18,< 1.0\nGGA27,CLGN,18,< 1.0\nGGAZ,CLGN,18,< 1.0\nGGA1,CLGM,18,< 1.0\nGGA2,CLGM,18,< 1.0\nGGA3,CLGM,18,< 1.0\nGGA4,CLGM,18,< 1.0\nGGA5,CLGM,18,< 1.0\nGGA6,CLGM,18,< 1.0\nGGA7,CLGM,18,< 1.0\nGGA8,CLGM,96,< 0.01\nGGA9,CLGM,18,< 1.0\nGGA10,CLGM,18,< 1.0\nGGA11,CLGM,18,< 1.0\nGGA12,CLGM,18,< 1.0\nGGA13,CLGM,18,< 1.0\nGGA14,CLGM,18,< 1.0\nGGA15,CLGM,18,< 1.0\nGGA16,CLGM,96,< 0.01\nGGA17,CLGM,18,< 1.0\nGGA18,CLGM,18,< 1.0\nGGA19,CLGM,18,< 1.0\nGGA20,CLGM,18,< 1.0\nGGA21,CLGM,18,< 1.0\nGGA22,CLGM,18,< 1.0\nGGA23,CLGM,40,< 1.0\nGGA24,CLGM,18,< 1.0\nGGA25,CLGM,40,< 1.0\nGGA26,CLGM,18,< 1.0\nGGA27,CLGM,18,< 1.0\nGGAZ,CLGM,18,< 1.0\nGGA1,CLGL,18,< 1.0\nGGA2,CLGL,18,< 1.0\nGGA3,CLGL,18,< 1.0\nGGA4,CLGL,18,< 1.0\nGGA5,CLGL,18,< 1.0\nGGA6,CLGL,18,< 1.0\nGGA7,CLGL,18,< 1.0\nGGA8,CLGL,96,< 0.01\nGGA9,CLGL,18,< 1.0\nGGA10,CLGL,18,< 1.0\nGGA11,CLGL,18,< 1.0\nGGA12,CLGL,18,< 1.0\nGGA13,CLGL,18,< 1.0\nGGA14,CLGL,18,< 1.0\nGGA15,CLGL,18,< 1.0\nGGA16,CLGL,18,< 1.0\nGGA17,CLGL,18,< 1.0\nGGA18,CLGL,18,< 1.0\nGGA19,CLGL,18,< 1.0\nGGA20,CLGL,18,< 1.0\nGGA21,CLGL,7,< 1.0\nGGA22,CLGL,18,< 1.0\nGGA23,CLGL,18,< 1.0\nGGA24,CLGL,18,< 1.0\nGGA25,CLGL,18,< 1.0\nGGA26,CLGL,18,< 1.0\nGGA27,CLGL,60,< 0.01\nGGAZ,CLGL,150,< 0.01\nGGA1,CLGK,96,< 0.01\nGGA2,CLGK,18,< 1.0\nGGA3,CLGK,96,< 0.01\nGGA4,CLGK,40,< 1.0\nGGA5,CLGK,18,< 1.0\nGGA6,CLGK,18,< 1.0\nGGA7,CLGK,18,< 1.0\nGGA8,CLGK,18,< 1.0\nGGA9,CLGK,18,< 1.0\nGGA10,CLGK,18,< 1.0\nGGA11,CLGK,18,< 1.0\nGGA12,CLGK,18,< 1.0\nGGA13,CLGK,7,< 1.0\nGGA14,CLGK,18,< 1.0\nGGA15,CLGK,18,< 1.0\nGGA16,CLGK,18,< 1.0\nGGA17,CLGK,18,< 1.0\nGGA18,CLGK,18,< 1.0\nGGA19,CLGK,18,< 1.0\nGGA20,CLGK,18,< 1.0\nGGA21,CLGK,18,< 1.0\nGGA22,CLGK,60,< 0.01\nGGA23,CLGK,18,< 1.0\nGGA24,CLGK,18,< 1.0\nGGA25,CLGK,7,< 1.0\nGGA27,CLGK,18,< 1.0\nGGAZ,CLGK,18,< 1.0\nGGA1,CLGJ,18,< 1.0\nGGA2,CLGJ,96,< 0.01\nGGA3,CLGJ,96,< 0.01\nGGA4,CLGJ,18,< 1.0\nGGA5,CLGJ,18,< 1.0\nGGA6,CLGJ,18,< 1.0\nGGA7,CLGJ,18,< 1.0\nGGA8,CLGJ,18,< 1.0\nGGA9,CLGJ,18,< 1.0\nGGA10,CLGJ,18,< 1.0\nGGA11,CLGJ,18,< 1.0\nGGA12,CLGJ,18,< 1.0\nGGA13,CLGJ,18,< 1.0\nGGA14,CLGJ,18,< 1.0\nGGA15,CLGJ,18,< 1.0\nGGA16,CLGJ,18,< 1.0\nGGA17,CLGJ,18,< 1.0\nGGA18,CLGJ,18,< 1.0\nGGA19,CLGJ,60,< 0.01\nGGA20,CLGJ,18,< 1.0\nGGA21,CLGJ,18,< 1.0\nGGA22,CLGJ,60,< 0.01\nGGA23,CLGJ,40,< 1.0\nGGA24,CLGJ,18,< 1.0\nGGA25,CLGJ,18,< 1.0\nGGA26,CLGJ,18,< 1.0\nGGA27,CLGJ,18,< 1.0\nGGAZ,CLGJ,40,< 1.0\nGGA1,CLGI,40,< 1.0\nGGA2,CLGI,18,< 1.0\nGGA3,CLGI,18,< 1.0\nGGA4,CLGI,96,< 0.01\nGGA5,CLGI,40,< 1.0\nGGA6,CLGI,96,< 0.01\nGGA7,CLGI,18,< 1.0\nGGA8,CLGI,18,< 1.0\nGGA9,CLGI,18,< 1.0\nGGA10,CLGI,18,< 1.0\nGGA11,CLGI,18,< 1.0\nGGA12,CLGI,18,< 1.0\nGGA13,CLGI,60,< 0.01\nGGA14,CLGI,18,< 1.0\nGGA15,CLGI,18,< 1.0\nGGA16,CLGI,18,< 1.0\nGGA17,CLGI,18,< 1.0\nGGA18,CLGI,18,< 1.0\nGGA19,CLGI,18,< 1.0\nGGA20,CLGI,18,< 1.0\nGGA21,CLGI,60,< 0.01\nGGA22,CLGI,18,< 1.0\nGGA23,CLGI,18,< 1.0\nGGA24,CLGI,18,< 1.0\nGGA25,CLGI,18,< 1.0\nGGA27,CLGI,18,< 1.0\nGGAZ,CLGI,18,< 1.0\nGGA1,CLGH,40,< 1.0\nGGA2,CLGH,18,< 1.0\nGGA3,CLGH,18,< 1.0\nGGA4,CLGH,18,< 1.0\nGGA5,CLGH,18,< 1.0\nGGA6,CLGH,18,< 1.0\nGGA7,CLGH,18,< 1.0\nGGA8,CLGH,18,< 1.0\nGGA9,CLGH,18,< 1.0\nGGA10,CLGH,18,< 1.0\nGGA11,CLGH,18,< 1.0\nGGA12,CLGH,18,< 1.0\nGGA13,CLGH,18,< 1.0\nGGA14,CLGH,150,< 0.01\nGGA15,CLGH,18,< 1.0\nGGA16,CLGH,18,< 1.0\nGGA17,CLGH,96,< 0.01\nGGA18,CLGH,18,< 1.0\nGGA19,CLGH,18,< 1.0\nGGA20,CLGH,18,< 1.0\nGGA21,CLGH,18,< 1.0\nGGA22,CLGH,18,< 1.0\nGGA23,CLGH,18,< 1.0\nGGA26,CLGH,18,< 1.0\nGGA27,CLGH,18,< 1.0\nGGAZ,CLGH,18,< 1.0\nGGA1,CLGG,40,< 1.0\nGGA2,CLGG,18,< 1.0\nGGA3,CLGG,18,< 1.0\nGGA4,CLGG,18,< 1.0\nGGA5,CLGG,40,< 1.0\nGGA6,CLGG,18,< 1.0\nGGA7,CLGG,18,< 1.0\nGGA8,CLGG,18,< 1.0\nGGA9,CLGG,18,< 1.0\nGGA10,CLGG,18,< 1.0\nGGA11,CLGG,18,< 1.0\nGGA12,CLGG,18,< 1.0\nGGA13,CLGG,18,< 1.0\nGGA14,CLGG,18,< 1.0\nGGA15,CLGG,150,< 0.01\nGGA16,CLGG,18,< 1.0\nGGA17,CLGG,18,< 1.0\nGGA18,CLGG,150,< 0.01\nGGA19,CLGG,18,< 1.0\nGGA20,CLGG,18,< 1.0\nGGA21,CLGG,18,< 1.0\nGGA22,CLGG,18,< 1.0\nGGA23,CLGG,18,< 1.0\nGGA25,CLGG,18,< 1.0\nGGA26,CLGG,18,< 1.0\nGGA27,CLGG,18,< 1.0\nGGAZ,CLGG,18,< 1.0\nGGA1,CLGF,96,< 0.01\nGGA2,CLGF,18,< 1.0\nGGA3,CLGF,18,< 1.0\nGGA4,CLGF,150,< 0.01\nGGA5,CLGF,18,< 1.0\nGGA6,CLGF,18,< 1.0\nGGA7,CLGF,18,< 1.0\nGGA8,CLGF,18,< 1.0\nGGA9,CLGF,18,< 1.0\nGGA10,CLGF,18,< 1.0\nGGA11,CLGF,18,< 1.0\nGGA12,CLGF,18,< 1.0\nGGA13,CLGF,60,< 0.01\nGGA14,CLGF,40,< 1.0\nGGA15,CLGF,18,< 1.0\nGGA16,CLGF,18,< 1.0\nGGA17,CLGF,40,< 1.0\nGGA18,CLGF,18,< 1.0\nGGA19,CLGF,18,< 1.0\nGGA20,CLGF,18,< 1.0\nGGA21,CLGF,18,< 1.0\nGGA22,CLGF,18,< 1.0\nGGA23,CLGF,18,< 1.0\nGGA24,CLGF,18,< 1.0\nGGA25,CLGF,18,< 1.0\nGGA26,CLGF,18,< 1.0\nGGA27,CLGF,18,< 1.0\nGGAZ,CLGF,18,< 1.0\nGGA1,CLGE,150,< 0.01\nGGA2,CLGE,18,< 1.0\nGGA3,CLGE,18,< 1.0\nGGA4,CLGE,40,< 1.0\nGGA5,CLGE,18,< 1.0\nGGA6,CLGE,18,< 1.0\nGGA7,CLGE,18,< 1.0\nGGA8,CLGE,18,< 1.0\nGGA9,CLGE,18,< 1.0\nGGA10,CLGE,18,< 1.0\nGGA11,CLGE,18,< 1.0\nGGA12,CLGE,96,< 0.01\nGGA13,CLGE,18,< 1.0\nGGA14,CLGE,18,< 1.0\nGGA15,CLGE,18,< 1.0\nGGA16,CLGE,18,< 1.0\nGGA17,CLGE,18,< 1.0\nGGA18,CLGE,18,< 1.0\nGGA19,CLGE,18,< 1.0\nGGA20,CLGE,18,< 1.0\nGGA21,CLGE,18,< 1.0\nGGA22,CLGE,18,< 1.0\nGGA23,CLGE,18,< 1.0\nGGA24,CLGE,18,< 1.0\nGGA25,CLGE,60,< 0.01\nGGA26,CLGE,18,< 1.0\nGGA27,CLGE,18,< 1.0\nGGAZ,CLGE,18,< 1.0\nGGA1,CLGD,40,< 1.0\nGGA2,CLGD,96,< 0.01\nGGA3,CLGD,18,< 1.0\nGGA4,CLGD,18,< 1.0\nGGA5,CLGD,18,< 1.0\nGGA6,CLGD,18,< 1.0\nGGA7,CLGD,18,< 1.0\nGGA8,CLGD,18,< 1.0\nGGA9,CLGD,18,< 1.0\nGGA10,CLGD,18,< 1.0\nGGA11,CLGD,150,< 0.01\nGGA12,CLGD,18,< 1.0\nGGA13,CLGD,18,< 1.0\nGGA14,CLGD,18,< 1.0\nGGA15,CLGD,18,< 1.0\nGGA16,CLGD,18,< 1.0\nGGA17,CLGD,18,< 1.0\nGGA18,CLGD,18,< 1.0\nGGA19,CLGD,96,< 0.01\nGGA20,CLGD,18,< 1.0\nGGA21,CLGD,18,< 1.0\nGGA22,CLGD,18,< 1.0\nGGA23,CLGD,18,< 1.0\nGGA24,CLGD,18,< 1.0\nGGA25,CLGD,18,< 1.0\nGGA26,CLGD,18,< 1.0\nGGA27,CLGD,18,< 1.0\nGGAZ,CLGD,18,< 1.0\nGGA1,CLGC,40,< 1.0\nGGA2,CLGC,40,< 1.0\nGGA3,CLGC,40,< 1.0\nGGA4,CLGC,18,< 1.0\nGGA5,CLGC,18,< 1.0\nGGA6,CLGC,40,< 1.0\nGGA7,CLGC,18,< 1.0\nGGA8,CLGC,18,< 1.0\nGGA9,CLGC,18,< 1.0\nGGA10,CLGC,150,< 0.01\nGGA11,CLGC,18,< 1.0\nGGA12,CLGC,18,< 1.0\nGGA13,CLGC,18,< 1.0\nGGA14,CLGC,18,< 1.0\nGGA15,CLGC,18,< 1.0\nGGA16,CLGC,18,< 1.0\nGGA17,CLGC,18,< 1.0\nGGA18,CLGC,18,< 1.0\nGGA19,CLGC,40,< 1.0\nGGA20,CLGC,18,< 1.0\nGGA21,CLGC,18,< 1.0\nGGA22,CLGC,40,< 1.0\nGGA23,CLGC,18,< 1.0\nGGA24,CLGC,60,< 0.01\nGGA25,CLGC,18,< 1.0\nGGA26,CLGC,18,< 1.0\nGGA27,CLGC,96,< 0.01\nGGA28,CLGC,18,< 1.0\nGGAZ,CLGC,230,< 0.01\nGGA1,CLGB,40,< 1.0\nGGA2,CLGB,230,< 0.01\nGGA3,CLGB,18,< 1.0\nGGA4,CLGB,18,< 1.0\nGGA5,CLGB,18,< 1.0\nGGA6,CLGB,18,< 1.0\nGGA7,CLGB,150,< 0.01\nGGA8,CLGB,18,< 1.0\nGGA9,CLGB,40,< 1.0\nGGA10,CLGB,18,< 1.0\nGGA11,CLGB,18,< 1.0\nGGA12,CLGB,18,< 1.0\nGGA13,CLGB,18,< 1.0\nGGA14,CLGB,18,< 1.0\nGGA15,CLGB,18,< 1.0\nGGA16,CLGB,18,< 1.0\nGGA17,CLGB,18,< 1.0\nGGA18,CLGB,18,< 1.0\nGGA19,CLGB,18,< 1.0\nGGA20,CLGB,18,< 1.0\nGGA21,CLGB,18,< 1.0\nGGA22,CLGB,18,< 1.0\nGGA23,CLGB,18,< 1.0\nGGA24,CLGB,18,< 1.0\nGGA25,CLGB,18,< 1.0\nGGA26,CLGB,96,< 0.01\nGGA27,CLGB,18,< 1.0\nGGA28,CLGB,60,< 0.01\nGGAZ,CLGB,18,< 1.0\nGGA1,CLGA,40,< 1.0\nGGA2,CLGA,18,< 1.0\nGGA3,CLGA,230,< 0.01\nGGA4,CLGA,18,< 1.0\nGGA5,CLGA,230,< 0.01\nGGA6,CLGA,18,< 1.0\nGGA7,CLGA,18,< 1.0\nGGA8,CLGA,18,< 1.0\nGGA9,CLGA,18,< 1.0\nGGA10,CLGA,18,< 1.0\nGGA11,CLGA,18,< 1.0\nGGA12,CLGA,18,< 1.0\nGGA13,CLGA,18,< 1.0\nGGA14,CLGA,18,< 1.0\nGGA15,CLGA,18,< 1.0\nGGA16,CLGA,18,< 1.0\nGGA17,CLGA,18,< 1.0\nGGA18,CLGA,18,< 1.0\nGGA19,CLGA,18,< 1.0\nGGA20,CLGA,18,< 1.0\nGGA21,CLGA,18,< 1.0\nGGA22,CLGA,18,< 1.0\nGGA23,CLGA,60,< 0.01\nGGA24,CLGA,18,< 1.0\nGGA25,CLGA,40,< 1.0\nGGA26,CLGA,18,< 1.0\nGGA27,CLGA,18,< 1.0\nGGAZ,CLGA,18,< 1.0"},
  "mark": {"type": "circle", "opacity": 1},
  "encoding": {
   "x": {"field": "x", "type": "nominal", "title": "Chicken", "scale": {"type": "band", "domain": ["GGA1","GGA2","GGA3","GGA4","GGA5","GGA6","GGA7","GGA8","GGA9","GGA10","GGA11","GGA12","GGA13","GGA14","GGA15","GGA16","GGA17","GGA18","GGA19","GGA20","GGA21","GGA22","GGA23","GGA24","GGA25","GGA26","GGA27","GGA28","GGAZ"], "paddingInner": 0, "paddingOuter": 0.685, "align": 0}},
   "y": {"field": "y", "type": "nominal", "title": "CLG", "sort": "descending", "scale": {"type": "band", "paddingInner": 0, "paddingOuter": 0.1}, "axis": {"titlePadding": 10}},
   "color": {"field": "p", "type": "nominal", "title": ["Bonferroni", "corrected", "p−value"], "scale": {"domain": ["< 0.01", "< 0.05", "< 1.0"], "range": ["#0000ff", "#f2a20f", "#e60000"]}, "legend": {"orient": "none", "legendX": 281, "legendY": 31, "symbolSize": 7}},
   "size": {"field": "n", "type": "quantitative", "title": "counts", "scale": {"type": "pow", "exponent": 1.4, "domain": [0, 200], "range": [2, 40]}, "legend": {"orient": "none", "legendX": 281, "legendY": 97, "values": [50, 100, 150, 200], "symbolFillColor": "#000"}}
  }
 },
 {"width": 270, "height": 178,
  "data": {"format": {"type": "csv", "parse": {"n": "number"}}, "values": "x,y,n,p\nXTR1,CLGQ,100,< 0.01\nXTR2,CLGQ,22,< 1.0\nXTR3,CLGQ,44,< 1.0\nXTR4,CLGQ,22,< 1.0\nXTR5,CLGQ,22,< 1.0\nXTR6,CLGQ,22,< 1.0\nXTR7,CLGQ,100,< 0.01\nXTR8,CLGQ,22,< 1.0\nXTR9,CLGQ,22,< 1.0\nXTR10,CLGQ,22,< 1.0\nXTR1,CLGP,22,< 1.0\nXTR2,CLGP,22,< 1.0\nXTR3,CLGP,22,< 1.0\nXTR4,CLGP,22,< 1.0\nXTR5,CLGP,100,< 0.01\nXTR6,CLGP,22,< 1.0\nXTR7,CLGP,100,< 0.01\nXTR8,CLGP,22,< 1.0\nXTR9,CLGP,22,< 1.0\nXTR10,CLGP,22,< 1.0\nXTR1,CLGO,22,< 1.0\nXTR2,CLGO,44,< 1.0\nXTR3,CLGO,100,< 0.01\nXTR4,CLGO,100,< 0.01\nXTR5,CLGO,22,< 1.0\nXTR6,CLGO,22,< 1.0\nXTR7,CLGO,44,< 1.0\nXTR8,CLGO,22,< 1.0\nXTR9,CLGO,22,< 1.0\nXTR10,CLGO,22,< 1.0\nXTR1,CLGN,7,< 1.0\nXTR2,CLGN,156,< 0.01\nXTR3,CLGN,22,< 1.0\nXTR4,CLGN,22,< 1.0\nXTR5,CLGN,100,< 0.01\nXTR6,CLGN,22,< 1.0\nXTR7,CLGN,22,< 1.0\nXTR8,CLGN,60,< 0.05\nXTR9,CLGN,22,< 1.0\nXTR10,CLGN,22,< 1.0\nXTR1,CLGM,22,< 1.0\nXTR2,CLGM,22,< 1.0\nXTR3,CLGM,22,< 1.0\nXTR4,CLGM,156,< 0.01\nXTR5,CLGM,22,< 1.0\nXTR6,CLGM,22,< 1.0\nXTR7,CLGM,22,< 1.0\nXTR8,CLGM,100,< 0.01\nXTR9,CLGM,22,< 1.0\nXTR10,CLGM,22,< 1.0\nXTR1,CLGL,156,< 0.01\nXTR2,CLGL,22,< 1.0\nXTR3,CLGL,44,< 1.0\nXTR4,CLGL,156,< 0.01\nXTR5,CLGL,22,< 1.0\nXTR6,CLGL,22,< 1.0\nXTR7,CLGL,7,< 1.0\nXTR8,CLGL,22,< 1.0\nXTR9,CLGL,22,< 1.0\nXTR10,CLGL,22,< 1.0\nXTR1,CLGK,22,< 1.0\nXTR2,CLGK,156,< 0.01\nXTR3,CLGK,7,< 1.0\nXTR4,CLGK,22,< 1.0\nXTR5,CLGK,156,< 0.01\nXTR6,CLGK,22,< 1.0\nXTR7,CLGK,22,< 1.0\nXTR8,CLGK,44,< 1.0\nXTR9,CLGK,22,< 1.0\nXTR10,CLGK,22,< 1.0\nXTR1,CLGJ,22,< 1.0\nXTR2,CLGJ,44,< 1.0\nXTR3,CLGJ,22,< 1.0\nXTR4,CLGJ,22,< 1.0\nXTR5,CLGJ,100,< 0.01\nXTR6,CLGJ,156,< 0.01\nXTR7,CLGJ,44,< 1.0\nXTR8,CLGJ,22,< 1.0\nXTR9,CLGJ,22,< 1.0\nXTR10,CLGJ,44,< 1.0\nXTR1,CLGI,100,< 0.01\nXTR2,CLGI,22,< 1.0\nXTR3,CLGI,100,< 0.01\nXTR4,CLGI,22,< 1.0\nXTR5,CLGI,22,< 1.0\nXTR6,CLGI,22,< 1.0\nXTR7,CLGI,100,< 0.01\nXTR8,CLGI,22,< 1.0\nXTR9,CLGI,22,< 1.0\nXTR10,CLGI,22,< 1.0\nXTR1,CLGH,7,< 1.0\nXTR2,CLGH,22,< 1.0\nXTR3,CLGH,22,< 1.0\nXTR4,CLGH,44,< 1.0\nXTR5,CLGH,22,< 1.0\nXTR6,CLGH,22,< 1.0\nXTR7,CLGH,22,< 1.0\nXTR8,CLGH,22,< 1.0\nXTR9,CLGH,156,< 0.01\nXTR10,CLGH,100,< 0.01\nXTR1,CLGG,156,< 0.01\nXTR2,CLGG,156,< 0.01\nXTR3,CLGG,22,< 1.0\nXTR4,CLGG,22,< 1.0\nXTR5,CLGG,22,< 1.0\nXTR6,CLGG,22,< 1.0\nXTR7,CLGG,22,< 1.0\nXTR8,CLGG,7,< 1.0\nXTR9,CLGG,22,< 1.0\nXTR10,CLGG,22,< 1.0\nXTR1,CLGF,156,< 0.01\nXTR2,CLGF,100,< 0.01\nXTR3,CLGF,44,< 1.0\nXTR4,CLGF,22,< 1.0\nXTR5,CLGF,22,< 1.0\nXTR6,CLGF,22,< 1.0\nXTR7,CLGF,22,< 1.0\nXTR8,CLGF,44,< 1.0\nXTR9,CLGF,44,< 1.0\nXTR10,CLGF,22,< 1.0\nXTR1,CLGE,22,< 1.0\nXTR2,CLGE,44,< 1.0\nXTR3,CLGE,156,< 0.01\nXTR4,CLGE,100,< 0.01\nXTR5,CLGE,22,< 1.0\nXTR6,CLGE,22,< 1.0\nXTR7,CLGE,22,< 1.0\nXTR8,CLGE,44,< 1.0\nXTR9,CLGE,22,< 1.0\nXTR10,CLGE,22,< 1.0\nXTR1,CLGD,44,< 1.0\nXTR2,CLGD,22,< 1.0\nXTR3,CLGD,22,< 1.0\nXTR4,CLGD,156,< 0.01\nXTR5,CLGD,22,< 1.0\nXTR6,CLGD,156,< 0.01\nXTR7,CLGD,22,< 1.0\nXTR8,CLGD,22,< 1.0\nXTR9,CLGD,22,< 1.0\nXTR10,CLGD,100,< 0.01\nXTR1,CLGC,250,< 0.01\nXTR2,CLGC,44,< 1.0\nXTR3,CLGC,156,< 0.01\nXTR4,CLGC,22,< 1.0\nXTR5,CLGC,44,< 1.0\nXTR6,CLGC,44,< 1.0\nXTR7,CLGC,22,< 1.0\nXTR8,CLGC,44,< 1.0\nXTR9,CLGC,22,< 1.0\nXTR10,CLGC,22,< 1.0\nXTR1,CLGB,22,< 1.0\nXTR2,CLGB,44,< 1.0\nXTR3,CLGB,22,< 1.0\nXTR4,CLGB,22,< 1.0\nXTR5,CLGB,22,< 1.0\nXTR6,CLGB,156,< 0.01\nXTR7,CLGB,22,< 1.0\nXTR8,CLGB,22,< 1.0\nXTR9,CLGB,156,< 0.01\nXTR10,CLGB,100,< 0.01\nXTR1,CLGA,22,< 1.0\nXTR2,CLGA,44,< 1.0\nXTR3,CLGA,22,< 1.0\nXTR4,CLGA,44,< 1.0\nXTR5,CLGA,250,< 0.01\nXTR6,CLGA,22,< 1.0\nXTR7,CLGA,44,< 1.0\nXTR8,CLGA,250,< 0.01\nXTR9,CLGA,22,< 1.0\nXTR10,CLGA,22,< 1.0"},
  "mark": {"type": "circle", "opacity": 1},
  "encoding": {
   "x": {"field": "x", "type": "nominal", "title": "Frog", "scale": {"type": "band", "domain": ["XTR1","XTR2","XTR3","XTR4","XTR5","XTR6","XTR7","XTR8","XTR9","XTR10"], "paddingInner": 0, "paddingOuter": 0.23, "align": 0}},
   "y": {"field": "y", "type": "nominal", "title": "CLG", "sort": "descending", "scale": {"type": "band", "paddingInner": 0, "paddingOuter": 0.1}, "axis": {"titlePadding": 9}},
   "color": {"field": "p", "type": "nominal", "title": ["Bonferroni", "corrected", "p−value"], "scale": {"domain": ["< 0.01", "< 0.05", "< 1.0"], "range": ["#0000ff", "#f2a20f", "#e60000"]}, "legend": {"orient": "none", "legendX": 276, "legendY": 29, "symbolSize": 7}},
   "size": {"field": "n", "type": "quantitative", "title": "counts", "scale": {"type": "pow", "exponent": 1.4, "domain": [0, 250], "range": [2, 51]}, "legend": {"orient": "none", "legendX": 276, "legendY": 93, "values": [50, 100, 150, 200, 250], "symbolFillColor": "#000"}}
  }
 }
 ]
}
]
}
